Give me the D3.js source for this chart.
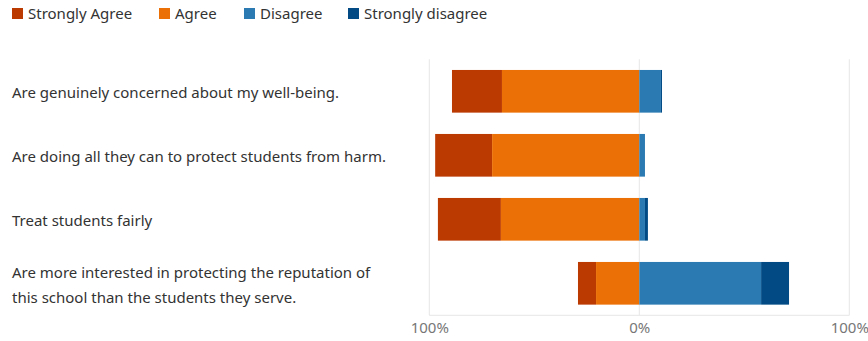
<!DOCTYPE html>
<html>
<head>
<meta charset="utf-8">
<script src="https://cdn.jsdelivr.net/npm/d3@7"></script>
<style>
  body { margin: 0; background: #fff; }
  svg { font-family: "Noto Sans", "Open Sans", sans-serif; }
</style>
</head>
<body>
<div id="chart"></div>
<script>
const categories = [
  "Are genuinely concerned about my well-being.",
  "Are doing all they can to protect students from harm.",
  "Treat students fairly",
  "Are more interested in protecting the reputation of this school than the students they serve."
];
const series = ["Strongly Agree", "Agree", "Disagree", "Strongly disagree"];
const colors = ["#ba3a02", "#eb7006", "#2b7bb2", "#014a84"];
const stronglyAgree = [23.8, 27.1, 30.0, 8.6];
const agree = [65.4, 70.1, 65.9, 20.6];
const disagree = [10.3, 2.7, 2.7, 58.0];
const stronglyDisagree = [0.5, 0, 1.4, 13.3];
const tickValues = [-100, 0, 100];

const width = 868, height = 341;
const svg = d3.select("#chart").append("svg")
  .attr("width", width)
  .attr("height", height);

const x = d3.scaleLinear().domain([-100, 100]).range([429.3, 849.3]);
const y = d3.scaleBand().domain(categories).range([59.3, 315.3])
  .paddingInner(1 / 3).paddingOuter(1 / 6);

// gridlines
svg.append("g").selectAll("line")
  .data(tickValues)
  .enter().append("line")
  .attr("x1", d => x(d)).attr("x2", d => x(d))
  .attr("y1", y.range()[0]).attr("y2", y.range()[1])
  .attr("stroke", "#e6e6e6")
  .attr("stroke-width", 1);
svg.append("line")
  .attr("x1", x(-100)).attr("x2", x(100))
  .attr("y1", y.range()[1]).attr("y2", y.range()[1])
  .attr("stroke", "#e6e6e6");

// build segments: agree side goes left, disagree side goes right
const rows = categories.map((c, i) => {
  const a = agree[i], sa = stronglyAgree[i], d = disagree[i], sd = stronglyDisagree[i];
  return [
    { cat: c, k: 0, x0: -(a + sa), x1: -a },
    { cat: c, k: 1, x0: -a, x1: 0 },
    { cat: c, k: 2, x0: 0, x1: d },
    { cat: c, k: 3, x0: d, x1: d + sd }
  ];
}).flat().filter(s => s.x1 > s.x0);

svg.append("g").selectAll("rect")
  .data(rows)
  .enter().append("rect")
  .attr("x", d => x(d.x0))
  .attr("width", d => x(d.x1) - x(d.x0))
  .attr("y", d => y(d.cat))
  .attr("height", y.bandwidth())
  .attr("fill", d => colors[d.k])
  .append("title")
  .text(d => `${series[d.k]}: ${Math.round(d.x1 - d.x0)}%`);

// axis
const axis = svg.append("g")
  .attr("transform", `translate(0,${y.range()[1]})`)
  .call(d3.axisBottom(x).tickValues(tickValues).tickSize(0).tickPadding(7)
    .tickFormat(d => Math.abs(d) + "%"));
axis.select(".domain").remove();
axis.selectAll("text")
  .attr("fill", "#777")
  .style("font-size", "15px")
  .style("font-family", "\"Noto Sans\", sans-serif");

// category labels, wrapped by character count
const maxChars = 53;
const labels = svg.append("g").selectAll("text")
  .data(categories)
  .enter().append("text")
  .attr("x", 12)
  .attr("fill", "#333")
  .style("font-size", "15px");
labels.each(function(d) {
  const t = d3.select(this);
  const lines = [];
  let cur = "";
  d.split(" ").forEach(w => {
    const next = cur ? cur + " " + w : w;
    if (next.length > maxChars && cur) {
      lines.push(cur);
      cur = w;
    } else cur = next;
  });
  lines.push(cur);
  const lh = 25;
  const cy = y(d) + y.bandwidth() / 2 + 1.5;
  lines.forEach((ln, j) => {
    t.append("tspan")
      .attr("x", 12)
      .attr("y", cy + (j - (lines.length - 1) / 2) * lh)
      .attr("dy", "0.35em")
      .text(ln);
  });
});

// legend
const legendX = [12, 159, 244, 348];
const legend = svg.append("g").selectAll("g")
  .data(series)
  .enter().append("g")
  .attr("transform", (d, i) => `translate(${legendX[i]},0)`);
legend.append("rect")
  .attr("y", 8).attr("width", 11).attr("height", 11)
  .attr("fill", (d, i) => colors[i]);
legend.append("text")
  .attr("x", 16).attr("y", 13.5).attr("dy", "0.35em")
  .attr("fill", "#333")
  .style("font-size", "15px")
  .text(d => d);
</script>
</body>
</html>
